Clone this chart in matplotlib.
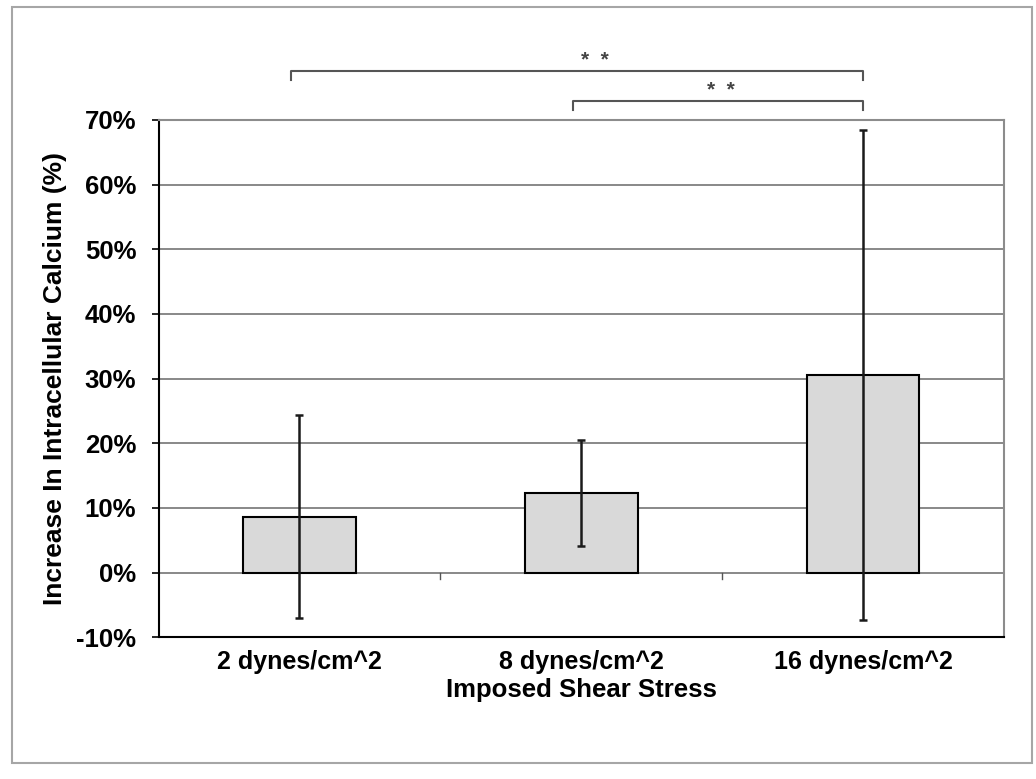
import matplotlib
matplotlib.use("Agg")
import matplotlib.pyplot as plt
from matplotlib.patches import Rectangle
from matplotlib.ticker import FuncFormatter, MultipleLocator
import numpy as np

plt.rcParams["font.family"] = ["Liberation Sans", "DejaVu Sans"]

# values (percent)
categories = ["2 dynes/cm^2", "8 dynes/cm^2", "16 dynes/cm^2"]
means = [8.6, 12.3, 30.5]
errors = [15.7, 8.2, 37.9]

# significance brackets: (left group, right group), label
sig_pairs = [(0, 2), (1, 2)]
sig_labels = ["*  *", "*  *"]

x = np.arange(len(categories))

fig = plt.figure(figsize=(10.36, 7.79), dpi=100)
# light grey chart-area frame
fig.patches.append(Rectangle((0.0116, 0.0205), 0.9846, 0.9705,
                             transform=fig.transFigure, fill=False,
                             edgecolor="#a6a6a6", lw=1.5))
ax = fig.add_axes([0.153, 0.182, 0.816, 0.664])

ax.bar(x, means, width=0.40, color="#d9d9d9", edgecolor="black",
       lw=1.5, zorder=3)
ax.errorbar(x, means, yerr=errors, fmt="none", ecolor="#1a1a1a",
            elinewidth=1.8, capsize=3, capthick=1.8, zorder=4)

ax.set_xlim(-0.5, len(categories) - 0.5)
ax.set_ylim(-10, 70)
ax.yaxis.set_major_locator(MultipleLocator(10))
ax.yaxis.set_major_formatter(FuncFormatter(lambda v, _: f"{v:.0f}%"))
ax.grid(axis="y", color="#7f7f7f", lw=1.3, zorder=0)
ax.set_axisbelow(True)

for side in ("top", "right"):
    ax.spines[side].set_color("#8c8c8c")
    ax.spines[side].set_linewidth(1.5)
for side in ("left", "bottom"):
    ax.spines[side].set_color("black")
    ax.spines[side].set_linewidth(1.5)

ax.tick_params(axis="y", direction="out", length=5, width=1.2, pad=11,
               labelsize=18.5)
ax.tick_params(axis="x", length=0, pad=9, labelsize=18)
ax.set_xticks(x)
ax.set_xticklabels(categories)
for lab in ax.get_xticklabels() + ax.get_yticklabels():
    lab.set_fontweight("bold")

# category-axis tick marks on the zero line, between the groups
for b in x[:-1] + 0.5:
    ax.plot([b, b], [0, -1.0], color="#555555", lw=1.0, zorder=2)

ax.set_xlabel("Imposed Shear Stress", fontsize=18.5, fontweight="bold",
              labelpad=3)
ax.set_ylabel("Increase In Intracellular Calcium (%)", fontsize=19,
              fontweight="bold", labelpad=7)

# significance brackets above the plot
bracket_y = [77.6, 72.9]
drop = 1.4
star_dx = [0.065, 0.01]
for (i, j), lab, by, dx in zip(sig_pairs, sig_labels, bracket_y, star_dx):
    xl, xr = x[i] - 0.03, x[j]
    ax.plot([xl, xl, xr, xr], [by - drop, by, by, by - drop],
            color="#555555", lw=1.5, clip_on=False)
    ax.text((xl + xr) / 2 + dx, by + 0.2, lab, ha="center", va="bottom",
            fontsize=15, color="#444444", fontweight="bold")

fig.savefig("out.png", dpi=100)
